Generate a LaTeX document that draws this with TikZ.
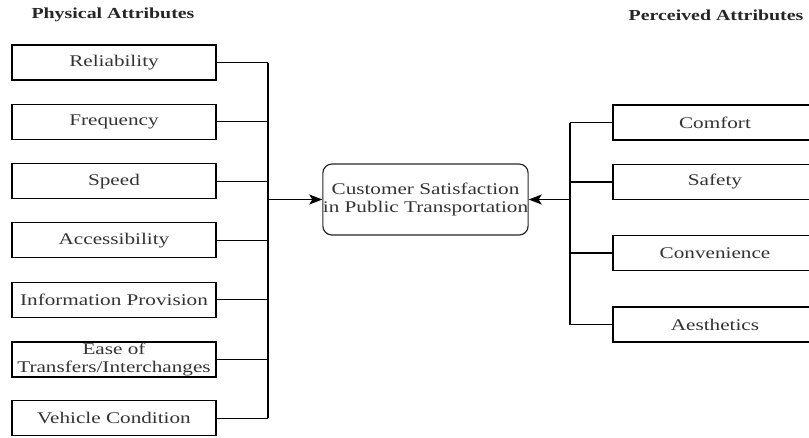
\documentclass[tikz,border=0pt]{standalone}
\usepackage{fontspec}
\setmainfont{Liberation Serif}[FakeStretch=1.3]
\usetikzlibrary{arrows.meta}
\tikzset{
  attr/.style={draw=black, line width=1.1pt, minimum width=204pt, minimum height=35pt, inner sep=0pt, align=center,
    font=\fontsize{16.3}{18.5}\selectfont, text=black!80},
  core/.style={draw=black!85, line width=1.2pt, rounded corners=9pt, minimum width=205pt, minimum height=71pt, inner sep=0pt, align=center,
    font=\fontsize{16.3}{18.5}\selectfont, text=black!80},
  title/.style={font=\fontsize{15.3}{17}\selectfont\bfseries, text=black!85},
  link/.style={line width=1.1pt, draw=black},
  arr/.style={line width=1.1pt, draw=black, -{Stealth[length=13pt,width=10pt,inset=3pt]}}
}
\begin{document}
\begin{tikzpicture}[x=1pt,y=-1pt]
\useasboundingbox (0,0) rectangle (809,437);
\clip (0,0) rectangle (809,437);
\node[title] (tl) at (113,15) {Physical Attributes};
\node[title] (tr) at (716,15) {Perceived Attributes};

\node[attr] (l1) at (114,62.5) {Reliability};
\node[attr] (l2) at (114,121.8) {Frequency};
\node[attr] (l3) at (114,181.1) {Speed};
\node[attr] (l4) at (114,240.4) {Accessibility};
\node[attr] (l5) at (114,299.7) {Information Provision};
\node[attr] (l6) at (114,359.5) {Ease of\\Transfers/Interchanges};
\node[attr] (l7) at (114,418.3) {Vehicle Condition};

\node[core] (c) at (425.5,199.5) {Customer Satisfaction\\in Public Transportation};

\node[attr] (r1) at (715,122.5) {Comfort};
\node[attr] (r2) at (715,182) {Safety};
\node[attr] (r3) at (715,253) {Convenience};
\node[attr] (r4) at (715,324.5) {Aesthetics};

\coordinate (bl) at (268,0);
\coordinate (br) at (570,0);

\foreach \n in {l1,l2,l3,l4,l5,l6,l7}
  \draw[link] (\n.east) -- (\n.east -| bl);
\draw[link] (l1.east -| bl) -- (l7.east -| bl);
\draw[arr] (c.west -| bl) -- (c.west);

\foreach \n in {r1,r2,r3,r4}
  \draw[link] (\n.west) -- (\n.west -| br);
\draw[link] (r1.west -| br) -- (r4.west -| br);
\draw[arr] (c.east -| br) -- (c.east);
\end{tikzpicture}
\end{document}
